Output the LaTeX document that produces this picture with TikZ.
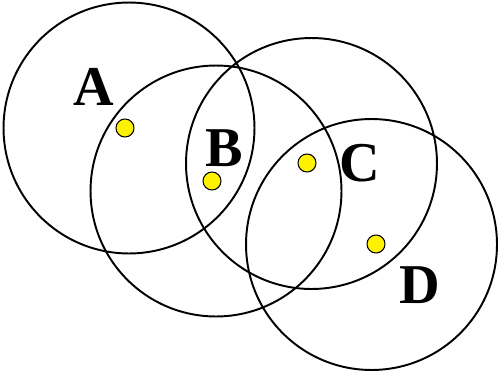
\documentclass[tikz,border=0pt]{standalone}
\usepackage{fontspec}
\setmainfont{Liberation Serif}
\usepackage{tikz}
\usetikzlibrary{positioning}
\tikzset{
zonecirc/.style={circle,draw,line width=1.1pt,minimum size=5.02cm,inner sep=0pt},
zonedot/.style={circle,draw,fill=yellow,line width=0.6pt,minimum size=0.36cm,inner sep=0pt},
zonelabel/.style={font=\fontsize{32}{32}\selectfont\bfseries,inner sep=0pt}
}
\begin{document}
\begin{tikzpicture}[
x=0.02cm,
y=-0.02cm
]
\useasboundingbox (0,0) rectangle (500,372);
\node[zonecirc] (circA) at (129,128) {};
\node[zonecirc] (circB) at (216,191) {};
\node[zonecirc] (circC) at (311.5,163.5) {};
\node[zonecirc] (circD) at (371.5,244.5) {};
\node[zonedot] (dotA) at (125,128) {};
\node[zonedot] (dotB) at (212,181) {};
\node[zonedot] (dotC) at (307,163) {};
\node[zonedot] (dotD) at (376,244) {};
\node[zonelabel] (labA) at (94,87) {A};
\node[zonelabel] (labB) at (224,148) {B};
\node[zonelabel] (labC) at (360,163) {C};
\node[zonelabel] (labD) at (420,285) {D};
\end{tikzpicture}
\end{document}
